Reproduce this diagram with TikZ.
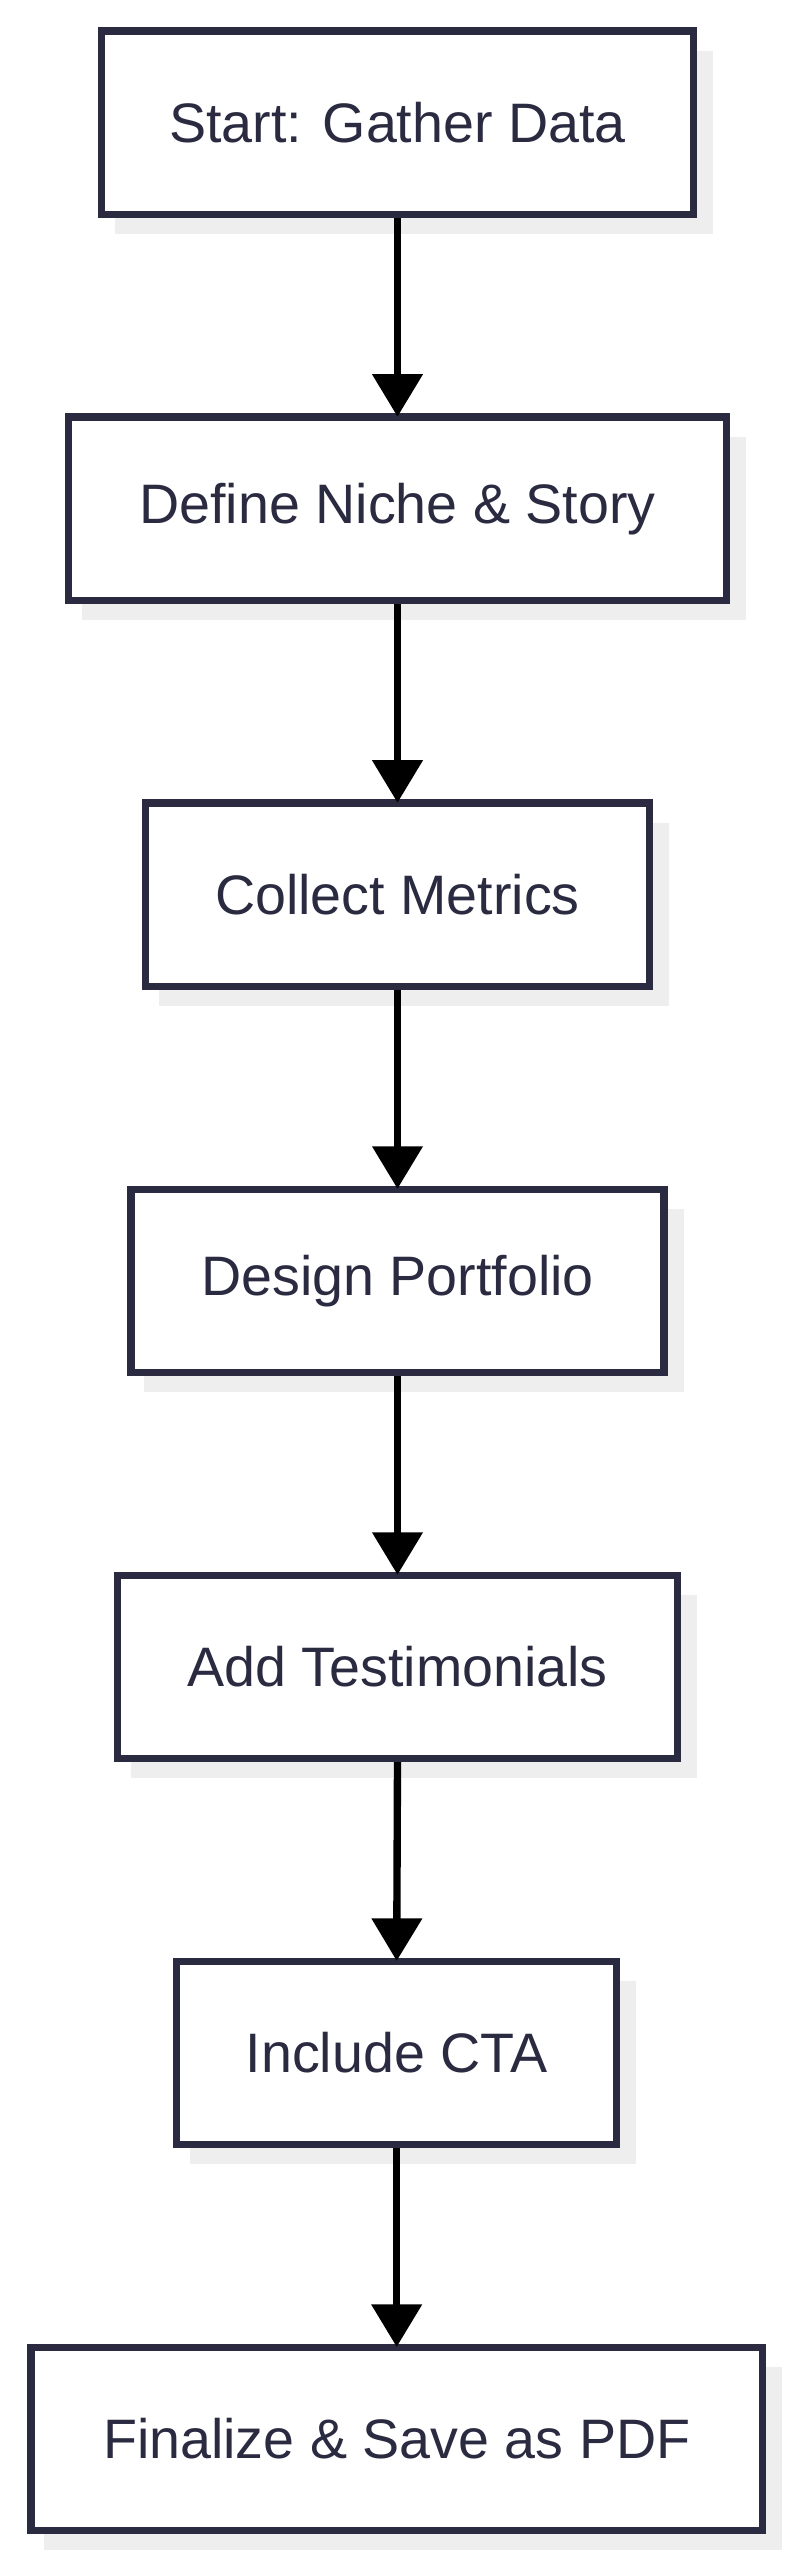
\documentclass[tikz,border=0pt]{standalone}
\usepackage{fontspec}
\setmainfont{Liberation Sans}
\usetikzlibrary{arrows.meta}
\definecolor{boxline}{HTML}{2A2A40}
\definecolor{shadowgray}{HTML}{EEEEEE}
\begin{document}
\begin{tikzpicture}[x=1pt,y=-1pt,
  stepbox/.style={draw=boxline,line width=4.5pt,fill=white,minimum height=112pt,font=\fontsize{34}{40}\selectfont,text=boxline},
  conn/.style={line width=4.5pt,-{Triangle[width=30pt,length=26pt]}}]
\useasboundingbox (0,0) rectangle (486,1565);
\def\bx#1#2#3#4#5{%
  \fill[shadowgray] (#2+8,#4+12) rectangle (#3+12,#4+124);
  \node[stepbox,minimum width=#3-#2] (#1) at ({(#2+#3)/2},#4+56) {#5};}
\bx{a}{62}{424}{19}{Start: Gather Data}
\bx{b}{42}{444}{255}{Define Niche \& Story}
\bx{c}{89}{397}{491}{Collect Metrics}
\bx{d}{80}{406}{727}{Design Portfolio}
\bx{e}{72}{414}{963}{Add Testimonials}
\bx{f}{108}{377}{1199}{Include CTA}
\bx{g}{19}{466}{1435}{Finalize \& Save as PDF}
\foreach \p/\q in {a/b,b/c,c/d,d/e,e/f,f/g}
  \draw[conn] (\p.south) -- ([yshift=-2pt]\q.north);
\end{tikzpicture}
\end{document}
